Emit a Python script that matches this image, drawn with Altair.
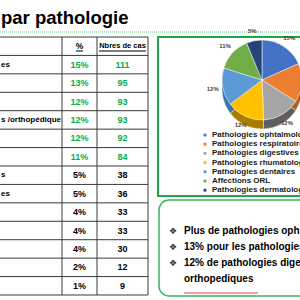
import altair as alt
import pandas as pd

# ---------------- data ----------------
title_text = ["par pathologie"]
row_labels = ["es", "", "", "s /orthopédique", "", "", "s", "es", "", "", "", "", ""]
pct_labels = ["15%", "13%", "12%", "12%", "12%", "11%", "5%", "5%", "4%", "4%", "4%", "2%", "1%"]
cases = [111, 95, 93, 93, 92, 84, 38, 36, 33, 33, 30, 12, 9]
header_pct = ["%"]
header_cases = ["Nbres de cas"]

pie_names = ["Pathologies ophtalmologiques", "Pathologies respiratoires",
             "Pathologies digestives", "Pathologies rhumatologiques",
             "Pathologies dentaires", "Affections ORL", "Pathologies dermatologiques"]
pie_values = [111, 95, 93, 93, 92, 84, 38]
pie_pct = ["15%", "13%", "12%", "12%", "12%", "11%", "5%"]
pie_colors = ["#4472C4", "#ED7D31", "#A5A5A5", "#FFC000", "#5B9BD5", "#70AD47", "#264478"]
side_colors = ["#2F5597", "#B85B1E", "#5E5E5E", "#A77F00", "#3A72A8", "#4E7E30", "#172C4F"]

notes = ["Plus de pathologies oph", "13% pour les pathologies",
         "12% de pathologies dige", "orthopediques"]
bullets = ["❖", "❖", "❖", ""]

# ---------------- tables ----------------
rows = ["header"] + [f"r{i}" for i in range(len(cases))]
tbl = pd.DataFrame({
    "row": rows[1:],
    "idx": list(range(len(cases))),
    "label": row_labels,
    "pct": pct_labels,
    "cases": [str(c) for c in cases],
})
hdr = pd.DataFrame({"row": ["header"], "p": header_pct, "c": header_cases})
bounds = pd.DataFrame({"b": list(range(len(rows) + 1))})

SANS = "Liberation Sans, Arial, sans-serif"

yrow = alt.Y("row:N", scale=alt.Scale(type="point", domain=rows, range=[37, 295], padding=0.5), axis=None)
green_or_black = alt.condition("datum.idx < 6", alt.value("#00B050"), alt.value("#000000"))

one = pd.DataFrame({"a": [0]})

layers = []

# title
layers.append(alt.Chart(pd.DataFrame({"t": title_text})).mark_text(
    align="left", baseline="alphabetic", fontSize=18.5, fontWeight="bold", font=SANS, color="#000000"
).encode(x=alt.value(1), y=alt.value(24), text="t:N"))

# dotted separator
layers.append(alt.Chart(one).mark_rule(color="#8FD3A8", strokeWidth=1.5, strokeDash=[1, 1]).encode(
    x=alt.value(0), x2=alt.value(300), y=alt.value(32)))

# horizontal table lines
layers.append(alt.Chart(bounds).mark_rule(color="#3A3A3A", strokeWidth=1).encode(
    y=alt.Y("b:Q", scale=alt.Scale(domain=[0, len(rows)], range=[37, 295]), axis=None),
    x=alt.value(0), x2=alt.value(148)))

# vertical table lines
for xv in (62, 97, 148):
    layers.append(alt.Chart(one).mark_rule(color="#3A3A3A", strokeWidth=1).encode(
        x=alt.value(xv), y=alt.value(37), y2=alt.value(295)))

# header text
layers.append(alt.Chart(hdr).mark_text(fontSize=8.5, fontWeight="bold", font=SANS, baseline="middle").encode(
    x=alt.value(79.5), y=yrow, text="p:N"))
layers.append(alt.Chart(hdr).mark_text(fontSize=7.5, fontWeight="bold", font=SANS, baseline="middle").encode(
    x=alt.value(122.5), y=yrow, text="c:N"))
# header underlines
layers.append(alt.Chart(one).mark_rule(color="#000000", strokeWidth=1).encode(
    x=alt.value(76), x2=alt.value(83), y=alt.value(51)))
layers.append(alt.Chart(one).mark_rule(color="#000000", strokeWidth=1).encode(
    x=alt.value(99), x2=alt.value(146), y=alt.value(51)))

# cells
layers.append(alt.Chart(tbl).mark_text(fontSize=8, fontWeight="bold", font=SANS, align="left", baseline="middle").encode(
    x=alt.value(1), y=yrow, text="label:N"))
layers.append(alt.Chart(tbl).mark_text(fontSize=9, fontWeight="bold", font=SANS, baseline="middle").encode(
    x=alt.value(79.5), y=yrow, text="pct:N", color=green_or_black))
layers.append(alt.Chart(tbl).mark_text(fontSize=9, fontWeight="bold", font=SANS, baseline="middle").encode(
    x=alt.value(122.5), y=yrow, text="cases:N", color=green_or_black))

# ---------------- pie box ----------------
layers.append(alt.Chart(one).mark_rect(fill="#FFFFFF", stroke="#1FA84A", strokeWidth=2).encode(
    x=alt.value(158), x2=alt.value(320), y=alt.value(37), y2=alt.value(196)))

pie = pd.DataFrame({"name": pie_names, "value": pie_values, "lab": pie_pct,
                    "idx": list(range(len(pie_names)))})
base = alt.Chart(pie).encode(
    theta=alt.Theta("value:Q", stack=True),
    order=alt.Order("idx:Q"),
    x=alt.value(262),
)
side = base.mark_arc(outerRadius=40, stroke="#FFFFFF", strokeWidth=0.4).encode(
    y=alt.value(89),
    color=alt.Color("name:N", scale=alt.Scale(domain=pie_names, range=side_colors), legend=None))
top = base.mark_arc(outerRadius=40, stroke="#FFFFFF", strokeWidth=0.5).encode(
    y=alt.value(80),
    color=alt.Color("name:N", scale=alt.Scale(domain=pie_names, range=pie_colors),
                    legend=alt.Legend(title=None, orient="none", legendX=201, legendY=131,
                                      labelFontSize=8, labelFont=SANS, labelFontWeight="bold",
                                      labelColor="#222222", symbolType="square", symbolSize=8,
                                      symbolStrokeWidth=0, rowPadding=1.2, labelLimit=0,
                                      labelOffset=3, padding=0)))
plabels = base.mark_text(radius=50, fontSize=6, fontWeight="bold", font=SANS, color="#404040").encode(
    y=alt.value(80), text="lab:N")
layers += [side, top, plabels]

# ---------------- notes box ----------------
layers.append(alt.Chart(one).mark_rect(fill="#FFFFFF", stroke="#3CB45A", strokeWidth=1.5, cornerRadius=10).encode(
    x=alt.value(159), x2=alt.value(330), y=alt.value(200), y2=alt.value(296)))
nt = pd.DataFrame({"i": list(range(len(notes))), "txt": notes, "b": bullets})
ynote = alt.Y("i:O", scale=alt.Scale(type="point", domain=list(range(len(notes))), range=[223, 287]), axis=None)
layers.append(alt.Chart(nt).mark_text(fontSize=9, font="DejaVu Sans", baseline="middle", color="#333333").encode(
    x=alt.value(173), y=ynote, text="b:N"))
layers.append(alt.Chart(nt).mark_text(fontSize=10, fontWeight="bold", font=SANS, align="left", baseline="middle", color="#000000").encode(
    x=alt.value(184), y=ynote, text="txt:N"))
layers.append(alt.Chart(one).mark_rule(color="#D9534F", strokeWidth=1).encode(
    x=alt.value(184), x2=alt.value(258), y=alt.value(293)))

chart = alt.layer(*layers).resolve_scale(
    y="independent", color="independent", theta="independent"
).properties(
    width=300, height=300, padding=0,
    autosize=alt.AutoSizeParams(type="none")
).configure_view(stroke=None)

chart.save("out.html", embed_options={"renderer": "svg", "actions": False})
